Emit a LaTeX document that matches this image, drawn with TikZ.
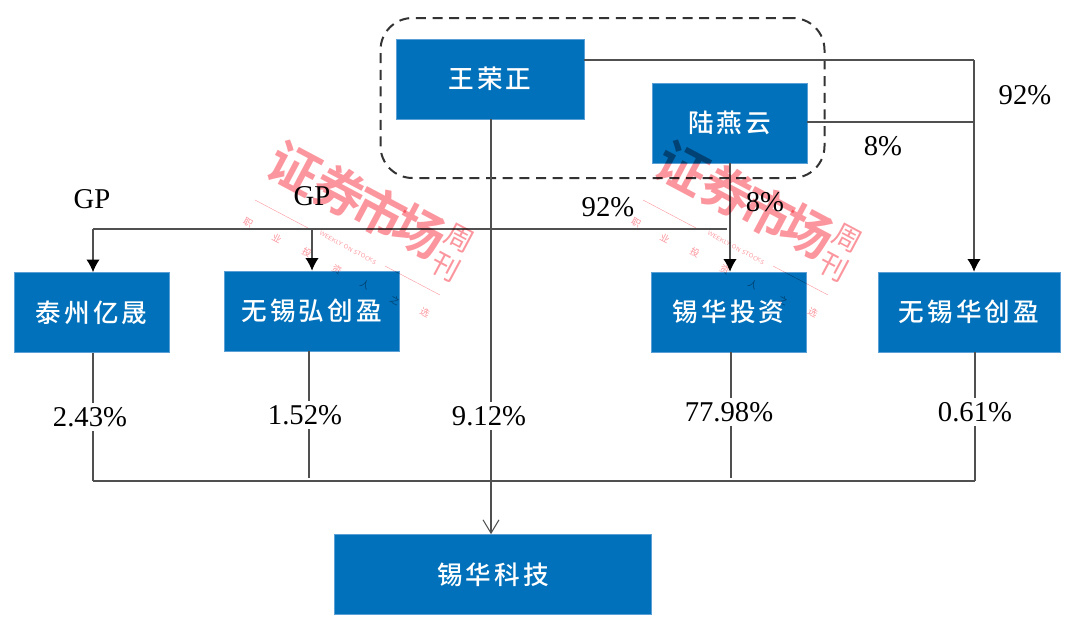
\documentclass[tikz,border=0pt]{standalone}
\usepackage{fontspec}
\usetikzlibrary{arrows.meta}
\setmainfont{Liberation Serif}
\newfontfamily\cjkbox[LetterSpace=12]{Noto Sans CJK SC Medium}
\newfontfamily\cjkthin{Noto Sans CJK SC}
\newfontfamily\cjkmark{Noto Sans CJK SC Bold}
\definecolor{boxblue}{RGB}{0,113,186}
\definecolor{boxedge}{RGB}{90,160,215}
\definecolor{linegray}{RGB}{80,80,80}
\definecolor{markpink}{RGB}{251,150,158}
\tikzset{
  firm/.style={fill=boxblue, draw=boxedge, line width=0.5pt, text=white, inner sep=0pt, minimum height=60pt, font=\cjkbox\fontsize{19.2}{20}\selectfont},
  conn/.style={draw=linegray, line width=0.8pt},
  share/.style={inner sep=1pt, font=\fontsize{21.5}{24}\selectfont},
  pct/.style={share, fill=white, inner sep=3pt},
  solidtip/.style={-{Latex[length=9.5pt,width=10pt,black]}}
}
\tikzset{
  markbig/.style={text=markpink, rotate=-28, inner sep=0pt, font=\cjkmark\fontsize{38}{38}\selectfont},
  markmid/.style={text=markpink, rotate=-28, inner sep=0pt, font=\cjkthin\fontsize{21}{21}\selectfont},
  marksmall/.style={text=markpink, rotate=-28, inner sep=0pt, font=\cjkthin\fontsize{7}{7}\selectfont},
  markword/.style={text=markpink, rotate=-28, inner sep=0pt, font=\sffamily\fontsize{4.5}{4.5}\selectfont}
}
\begin{document}
\begin{tikzpicture}[x=0.75pt,y=-0.75pt]
\useasboundingbox (0,0) rectangle (1080,625);
% people
\node[firm, minimum width=141pt] (wrz) at (490,79) {王荣正};
\node[firm, minimum width=116pt] (lyy) at (729.5,123) {陆燕云};
% middle row
\node[firm, minimum width=116pt] (tzyc) at (91.5,312.5) {泰州亿晟};
\node[firm, minimum width=131pt] (hcy) at (311.5,311) {无锡弘创盈};
\node[firm, minimum width=116pt] (xhtz) at (728.5,312) {锡华投资};
\node[firm, minimum width=136.5pt] (hcyb) at (969,312) {无锡华创盈};
% company
\node[firm, minimum width=238pt] (xhkj) at (493,574.5) {锡华科技};
% group frame
\node[draw=black!80, dash pattern=on 7.5pt off 5pt, line width=1.5pt, rounded corners=24pt, inner sep=0pt, minimum width=333pt, minimum height=120pt] (grp) at (602.5,98) {};
% helper points
\coordinate (wrzout) at (584,60);
\coordinate (lyyout) at (807,122);
\coordinate (topr) at (974,60);
\coordinate (gpl) at (93,229);
\coordinate (gpm) at (312,229);
\coordinate (gpr) at (727,229);
\coordinate (wrzdown) at (491,119);
\coordinate (lyydown) at (730,163);
\coordinate (busa) at (93,481);
\coordinate (busb) at (309,478);
\coordinate (busc) at (731,478);
\coordinate (busd) at (975,481);
% connectors
\draw[conn] (wrzout) -- (topr);
\draw[conn] (lyyout) -- (lyyout -| topr);
\draw[conn, solidtip] (topr) -- (hcyb.north -| topr);
\draw[conn] (gpl) -- (gpr);
\draw[conn, solidtip] (gpl) -- (tzyc.north -| gpl);
\draw[conn, solidtip] (gpm) -- (hcy.north -| gpm);
\draw[conn, solidtip] (lyydown) -- (xhtz.north -| lyydown);
\draw[conn] (busa) -- (busd);
\draw[conn] (tzyc.south -| busa) -- (busa);
\draw[conn] (hcy.south -| busb) -- (busb);
\draw[conn] (xhtz.south -| busc) -- (busc);
\draw[conn] (hcyb.south -| busd) -- (busd);
\draw[conn, -{Straight Barb[length=10pt,width=12pt]}] (wrzdown) -- (xhkj.north -| wrzdown);
% stakes
\node[share] (gpa) at (92,199) {GP};
\node[share] (gpb) at (312,196) {GP};
\node[share] (wrzpct) at (608,207) {92\%};
\node[share] (lyypct) at (765,202) {8\%};
\node[share] (wrzpctb) at (1025,95) {92\%};
\node[share] (lyypctb) at (883,146) {8\%};
\node[pct] (pcta) at (90,417) {2.43\%};
\node[pct] (pctb) at (305,415) {1.52\%};
\node[pct] (pctc) at (489,416) {9.12\%};
\node[pct] (pctd) at (729,412) {77.98\%};
\node[pct] (pcte) at (975,412) {0.61\%};
% watermark, twice
\begin{scope}[blend mode=multiply]
\foreach \i/\dx in {a/0,b/388}{
  \begin{scope}[shift={(\dx,0)}]
  \node[markbig] (zheng\i) at (295,168) {证};
  \node[markbig] (quan\i) at (340,191) {券};
  \node[markbig] (shi\i) at (380,212) {市};
  \node[markbig] (chang\i) at (420,232) {场};
  \node[markmid] (zhou\i) at (459,238) {周};
  \node[markmid] (kan\i) at (446,267) {刊};
  \node[markword] (week\i) at (348,248) {WEEKLY ON STOCKS};
  \node[marksmall] (zhi\i) at (248,223) {职};
  \node[marksmall] (ye\i) at (277,238) {业};
  \node[marksmall] (tou\i) at (307,253) {投};
  \node[marksmall] (zi\i) at (337,270) {资};
  \node[marksmall] (ren\i) at (365,285) {人};
  \node[marksmall] (zhib\i) at (395,300) {之};
  \node[marksmall] (xuan\i) at (425,313) {选};
  \coordinate (ruleaa\i) at (255,200);
  \coordinate (ruleab\i) at (308,228);
  \coordinate (ruleba\i) at (385,266);
  \coordinate (rulebb\i) at (440,295);
  \draw[markpink, line width=0.3pt] (ruleaa\i) -- (ruleab\i);
  \draw[markpink, line width=0.3pt] (ruleba\i) -- (rulebb\i);
  \end{scope}
}
\end{scope}
\end{tikzpicture}
\end{document}
